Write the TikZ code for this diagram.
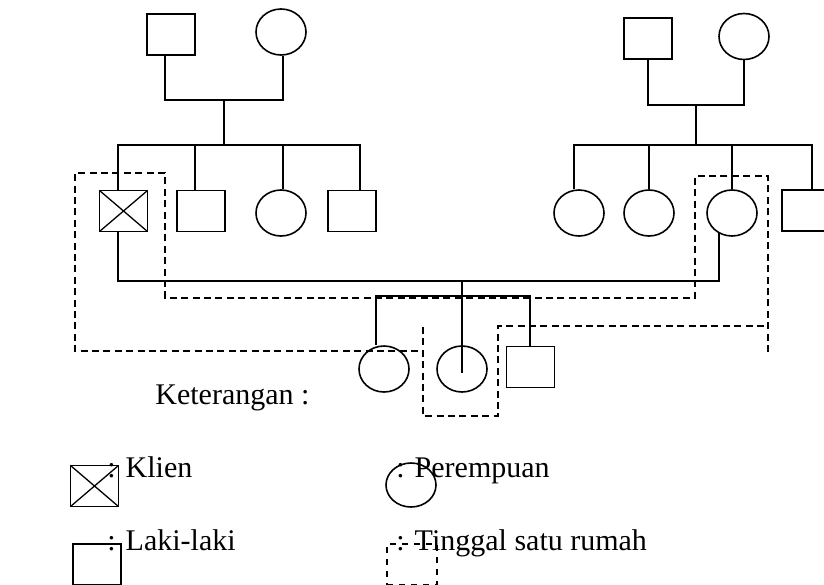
\documentclass[tikz,border=0pt]{standalone}
\usepackage{fontspec}
\setmainfont{Liberation Serif}
\usetikzlibrary{shapes.geometric}

\tikzset{
  male/.style={draw, rectangle, line width=0.8pt, minimum width=24pt,
    minimum height=20.5pt, inner sep=0pt},
  female/.style={draw, ellipse, line width=0.8pt, minimum width=25pt,
    minimum height=23pt, inner sep=0pt},
  klien/.style={male, path picture={
    \draw[line width=0.65pt] (path picture bounding box.north west)
      -- (path picture bounding box.south east);
    \draw[line width=0.65pt] (path picture bounding box.north east)
      -- (path picture bounding box.south west);}},
  link/.style={line width=0.8pt},
  house/.style={line width=1pt, dash pattern=on 3.5pt off 2.2pt},
  legtext/.style={anchor=base west, inner sep=0pt,
    font=\fontsize{15pt}{18pt}\selectfont}
}

\begin{document}
\begin{tikzpicture}[x=0.5pt,y=-0.5pt]
\useasboundingbox (0,0) rectangle (824,584);

% keluarga kiri
\node[male]   (lgm) at (171,34.5) {};
\node[female] (lgf) at (281,32) {};
\node[klien]  (client) at (123.5,211) {};
\node[male]   (lb1) at (201,211) {};
\node[female] (lg1) at (281,213) {};
\node[male]   (lb2) at (352,211) {};

% keluarga kanan
\node[male]   (rgm) at (648,38.5) {};
\node[female] (rgf) at (744,36.5) {};
\node[female] (rg1) at (579,213) {};
\node[female] (rg2) at (649,213) {};
\node[female] (rg3) at (732,213) {};
\node[male]   (rsq) at (806,210.5) {};

% anak
\node[female] (bc1) at (384,369) {};
\node[female] (bc2) at (462,369) {};
\node[male]   (bsq) at (530.5,367) {};

\coordinate (lgp)  at (224,100);
\coordinate (lsib) at (224,145);
\coordinate (rgp)  at (696,105);
\coordinate (rsib) at (696,145);
\coordinate (marr) at (462,281);
\coordinate (kids) at (462,296);

\draw[link] ([xshift=-3pt]lgm.south) |- (lgp) -| ([xshift=1pt]lgf.south);
\draw[link] (lgp) -- (lsib);
\draw[link] ([xshift=-2.75pt]client.north) |- (lsib) -| ([xshift=4pt]lb2.north);
\draw[link] ([xshift=-3pt]lb1.north) -- ([xshift=-3pt]lb1.north |- lsib);
\draw[link] ([xshift=1pt]lg1.north) -- ([xshift=1pt]lg1.north |- lsib);

\draw[link] (rgm.south) |- (rgp) -| (rgf.south);
\draw[link] (rgp) -- (rsib);
\draw[link] ([xshift=-2.5pt]rg1.north) |- (rsib) -| ([xshift=3pt]rsq.north);
\draw[link] (rg2.north) -- (rg2.north |- rsib);
\draw[link] (rg3.north) -- (rg3.north |- rsib);

\draw[link] ([xshift=-2.75pt]client.south) |- (marr) -| (rg3.237);
\draw[link] (marr) -- ([yshift=-2pt]bc2.center);
\draw[link] ([xshift=-4pt]bc1.north) |- (kids) -| ([xshift=-0.25pt]bsq.north);

% tinggal satu rumah
\draw[house] (423,327) -- (423,416) -- (498,416) -- (498,326) -- (768,326);
\draw[house] (768,352) -- (768,176) -- (695,176) -- (695,298) -- (165,298)
  -- (165,173) -- (75,173) -- (75,351) -- (423,351);

% keterangan
\node[legtext] (ket) at (155,404) {Keterangan :};
\node[legtext] (tklien) at (107,477) {: Klien};
\node[klien]   (lklien) at (94.5,486) {};
\node[legtext] (tlaki) at (107,550) {: Laki-laki};
\node[male]    (llaki) at (97,564.5) {};
\node[legtext] (tper) at (396,477) {: Perempuan};
\node[female, minimum height=22pt] (lper) at (411,485) {};
\node[legtext] (ttinggal) at (396,550) {: Tinggal satu rumah};
\node[draw, line width=0.55pt, dash pattern=on 3pt off 3pt, minimum width=25pt,
  minimum height=20.5pt, inner sep=0pt] (ltinggal) at (412,564.5) {};
\end{tikzpicture}
\end{document}
